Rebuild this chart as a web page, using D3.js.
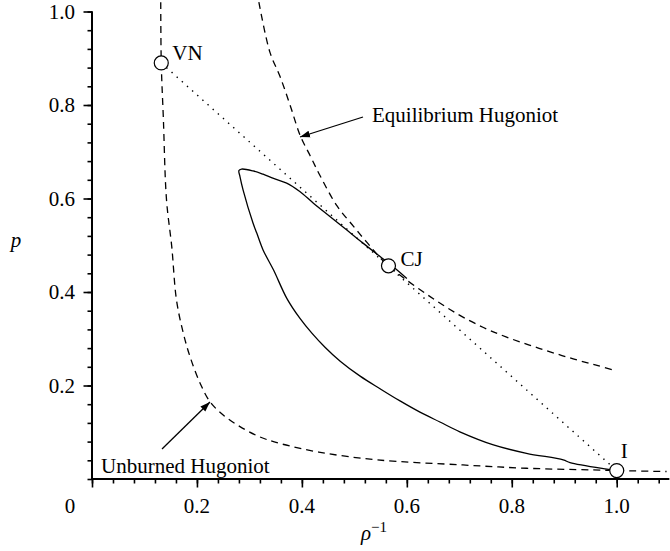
<!DOCTYPE html>
<html lang="en">
<head>
<meta charset="UTF-8">
<title>Hugoniot curves</title>
<script src="https://d3js.org/d3.v7.min.js"></script>
<style>
  body { margin: 0; background: #fff; }
  svg text { font-family: "Liberation Serif", "Times New Roman", serif; fill: #000; }
</style>
</head>
<body>
<svg id="chart" width="670" height="551"></svg>
<script>
// values (x = specific volume 1/rho, y = pressure p)
const unburnedV = [0.131, 0.132, 0.136, 0.142, 0.152, 0.161, 0.174, 0.187, 0.206, 0.225, 0.250, 0.282, 0.320, 0.358, 0.435, 0.543, 0.707, 0.828, 0.968, 1.0, 1.095];
const unburnedP = [1.02, 0.890, 0.771, 0.597, 0.497, 0.383, 0.312, 0.261, 0.205, 0.165, 0.137, 0.112, 0.090, 0.076, 0.057, 0.041, 0.030, 0.023, 0.019, 0.018, 0.016];

const equilV = [0.318, 0.339, 0.358, 0.378, 0.397, 0.416, 0.435, 0.467, 0.498, 0.524, 0.564, 0.683, 0.746, 0.789, 0.832, 0.873, 0.917, 0.959, 0.997];
const equilP = [1.02, 0.913, 0.862, 0.798, 0.734, 0.691, 0.648, 0.584, 0.541, 0.506, 0.457, 0.362, 0.324, 0.304, 0.287, 0.272, 0.257, 0.244, 0.232];

// computed solution path, starting at I
const pathV = [1.0, 0.981, 0.911, 0.898, 0.828, 0.765, 0.701, 0.663, 0.625, 0.587, 0.549, 0.511, 0.473, 0.444, 0.419, 0.396, 0.371, 0.346, 0.326, 0.314, 0.307, 0.288, 0.282, 0.280, 0.285,
               0.307, 0.326, 0.346, 0.371, 0.396, 0.422, 0.454, 0.485, 0.517, 0.549, 0.574, 0.600];
const pathP = [0.018, 0.021, 0.035, 0.041, 0.055, 0.073, 0.101, 0.122, 0.143, 0.167, 0.193, 0.220, 0.252, 0.282, 0.312, 0.344, 0.387, 0.447, 0.490, 0.526, 0.547, 0.618, 0.647, 0.660, 0.663,
               0.659, 0.652, 0.643, 0.633, 0.615, 0.590, 0.561, 0.533, 0.504, 0.476, 0.454, 0.429];

// labelled states
const stateNames = ["VN", "CJ", "I"];
const stateV = [0.132, 0.565, 1.0];
const stateP = [0.890, 0.456, 0.018];

const xTickLabels = [0.2, 0.4, 0.6, 0.8, 1.0];
const yTickLabels = [0.2, 0.4, 0.6, 0.8, 1.0];

const svg = d3.select('#chart');
const x = d3.scaleLinear().domain([0, 1.1]).range([92, 669.2]);
const y = d3.scaleLinear().domain([0, 1]).range([479, 11.5]);

const fmt = d3.format('.1f');
const minorTicks = d3.range(0, 1.1, 0.04);
const yMinor = d3.range(0, 1.001, 0.04);

// x axis
const gx = svg.append('g').attr('transform', `translate(0,${y(0)})`);
gx.call(d3.axisBottom(x).tickValues(minorTicks).tickSize(4.5).tickFormat(''));
gx.append('g').call(d3.axisBottom(x).tickValues([0].concat(xTickLabels)).tickSize(8.5).tickFormat(''));
gx.selectAll('.domain').attr('stroke-width', 2).attr('d', `M${x(0)},0H${x(1.1)}`);
gx.selectAll('line').attr('stroke-width', 1.6);

// y axis
const gy = svg.append('g').attr('transform', `translate(${x(0)},0)`);
gy.call(d3.axisLeft(y).tickValues(yMinor).tickSize(4.5).tickFormat(''));
gy.append('g').call(d3.axisLeft(y).tickValues(yTickLabels).tickSize(8.5).tickFormat(''));
gy.selectAll('.domain').attr('stroke-width', 2).attr('d', `M0,${y(1)}V${y(0)}`);
gy.selectAll('line').attr('stroke-width', 1.6);

// tick labels
svg.selectAll('.xl').data(xTickLabels).enter().append('text')
  .attr('x', d => x(d)).attr('y', 513).attr('text-anchor', 'middle')
  .style('font-size', '21px').text(d => fmt(d));
svg.append('text').attr('x', x(0) - 22).attr('y', 513).attr('text-anchor', 'middle')
  .style('font-size', '21px').text('0');
svg.selectAll('.yl').data(yTickLabels).enter().append('text')
  .attr('x', 75).attr('y', d => y(d) + 7).attr('text-anchor', 'end')
  .style('font-size', '21px').text(d => fmt(d));

// axis titles
svg.append('text').attr('x', 16).attr('y', 247).attr('text-anchor', 'middle')
  .style('font-size', '21px').style('font-style', 'italic').text('p');
const xt = svg.append('text').attr('x', 361).attr('y', 540).style('font-size', '21px');
xt.append('tspan').style('font-style', 'italic').text('ρ');
xt.append('tspan').attr('dy', -8).style('font-size', '15px').text('−1');

const line = d3.line().x(d => x(d[0])).y(d => y(d[1])).curve(d3.curveCatmullRom.alpha(0.5));
const zip = (a, b) => a.map((v, i) => [v, b[i]]);

// Rayleigh line VN - I
svg.append('path').attr('d', line([[stateV[0], stateP[0]], [stateV[2], stateP[2]]]))
  .attr('fill', 'none').attr('stroke', '#000').attr('stroke-width', 1.4)
  .attr('stroke-dasharray', '1.4,5.5');

svg.append('path').attr('d', line(zip(unburnedV, unburnedP)))
  .attr('fill', 'none').attr('stroke', '#000').attr('stroke-width', 1.3)
  .attr('stroke-dasharray', '7,5');
svg.append('path').attr('d', line(zip(equilV, equilP)))
  .attr('fill', 'none').attr('stroke', '#000').attr('stroke-width', 1.3)
  .attr('stroke-dasharray', '7,5');
svg.append('path').attr('d', line(zip(pathV, pathP)))
  .attr('fill', 'none').attr('stroke', '#000').attr('stroke-width', 1.3);

// state markers
svg.selectAll('.st').data(stateNames).enter().append('circle')
  .attr('cx', (d, i) => x(stateV[i])).attr('cy', (d, i) => y(stateP[i])).attr('r', 7)
  .attr('fill', '#fff').attr('stroke', '#000').attr('stroke-width', 1.2);
const labelOff = [[11, -3], [12, 0], [4, -13]];
svg.selectAll('.sl').data(stateNames).enter().append('text')
  .attr('x', (d, i) => x(stateV[i]) + labelOff[i][0])
  .attr('y', (d, i) => y(stateP[i]) + labelOff[i][1])
  .style('font-size', '21px').text(d => d);

// annotations with arrows
svg.append('defs').append('marker').attr('id', 'arr')
  .attr('viewBox', '0 0 10 10').attr('refX', 10).attr('refY', 5)
  .attr('markerWidth', 10).attr('markerHeight', 10).attr('markerUnits', 'userSpaceOnUse')
  .attr('orient', 'auto')
  .append('path').attr('d', 'M0,1.5L10,5L0,8.5Z').attr('fill', '#000');

svg.append('line').attr('x1', 363).attr('y1', 117).attr('x2', 300).attr('y2', 137)
  .attr('stroke', '#000').attr('stroke-width', 1.3).attr('marker-end', 'url(#arr)');
svg.append('text').attr('x', 372).attr('y', 122).style('font-size', '21px').text('Equilibrium Hugoniot');

svg.append('line').attr('x1', 162).attr('y1', 449).attr('x2', 210).attr('y2', 402)
  .attr('stroke', '#000').attr('stroke-width', 1.3).attr('marker-end', 'url(#arr)');
svg.append('text').attr('x', 101).attr('y', 473).style('font-size', '21px').text('Unburned Hugoniot');
</script>
</body>
</html>
